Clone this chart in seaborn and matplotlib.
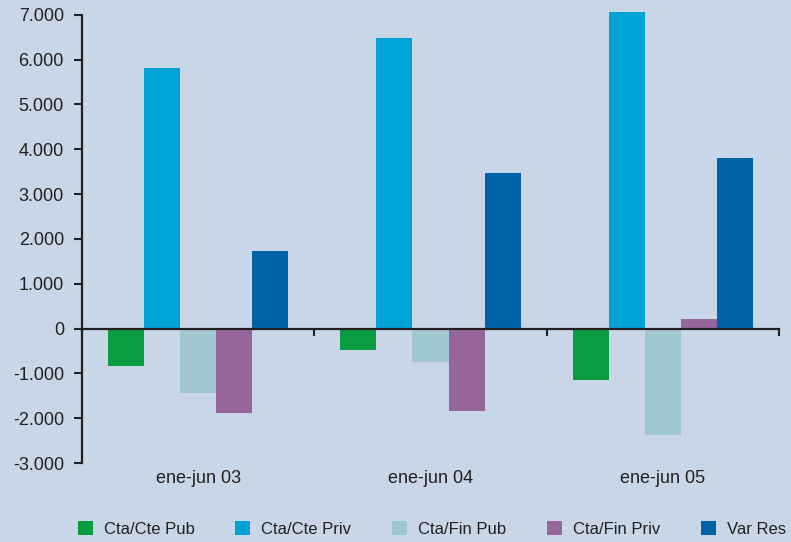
import matplotlib
matplotlib.use("Agg")
import matplotlib.pyplot as plt
import matplotlib.transforms as mtransforms
from matplotlib.patches import Patch
from matplotlib.ticker import FuncFormatter
import pandas as pd
import seaborn as sns

# Periods and flows (millions)
categories = ["ene-jun 03", "ene-jun 04", "ene-jun 05"]
series_names = ["Cta/Cte Pub", "Cta/Cte Priv", "Cta/Fin Pub", "Cta/Fin Priv", "Var Res"]
cta_cte_pub = [-830, -480, -1150]
cta_cte_priv = [5810, 6480, 7060]
cta_fin_pub = [-1430, -740, -2370]
cta_fin_priv = [-1880, -1850, 210]
var_res = [1730, 3470, 3800]
y_ticks = [-3000, -2000, -1000, 0, 1000, 2000, 3000, 4000, 5000, 6000, 7000]

colors = ["#0a9c42", "#00a3d6", "#a0c6d0", "#96659c", "#0063a7"]
bg = "#c9d6e7"
ink = "#231f20"

values = [cta_cte_pub, cta_cte_priv, cta_fin_pub, cta_fin_priv, var_res]
rows = []
for name, vals in zip(series_names, values):
    for cat, v in zip(categories, vals):
        rows.append({"periodo": cat, "serie": name, "valor": v})
df = pd.DataFrame(rows)

sns.set_theme(style="white")
plt.rcParams["font.family"] = ["Liberation Sans", "DejaVu Sans"]

fig = plt.figure(figsize=(7.91, 5.42), dpi=100, facecolor=bg)
ax = fig.add_axes([82 / 791, (542 - 463) / 542, (779 - 82) / 791, (463 - 11.6) / 542])
ax.set_facecolor(bg)

sns.barplot(data=df, x="periodo", y="valor", hue="serie", order=categories,
            hue_order=series_names, palette=colors, width=0.775,
            saturation=1, legend=False, ax=ax, linewidth=0, errorbar=None)

ax.set_xlim(-0.5, 2.5)
ax.set_ylim(-3000, 7070)

# y axis: thousands with a dot separator
ax.set_yticks(y_ticks)
ax.yaxis.set_major_formatter(FuncFormatter(
    lambda v, _: f"{int(v):,}".replace(",", ".")))
ax.tick_params(axis="y", direction="out", length=6, width=1.5, color=ink,
               labelsize=13, labelcolor=ink, pad=7, left=True)

# x axis sits on zero, with ticks between the periods
ax.spines["bottom"].set_position(("data", 0))
ax.set_xticks([-0.5, 0.5, 1.5, 2.5])
ax.set_xticklabels([])
ax.tick_params(axis="x", direction="out", length=5, width=1.5, color=ink, bottom=True)
ax.set_xlabel("")
ax.set_ylabel("")

for side in ["top", "right"]:
    ax.spines[side].set_visible(False)
for side in ["left", "bottom"]:
    ax.spines[side].set_color(ink)
    ax.spines[side].set_linewidth(1.6)
ax.spines["left"].set_bounds(-3000, 7000)

# period names under the plot area
trans = mtransforms.blended_transform_factory(ax.transData, ax.transAxes)
for i, cat in enumerate(categories):
    ax.text(i, -0.034, cat, transform=trans, ha="center", va="center",
            fontsize=13, color=ink)

handles = [Patch(facecolor=c, edgecolor="none", label=n) for c, n in zip(colors, series_names)]
fig.legend(handles=handles, loc="center", bbox_to_anchor=(432 / 791, 1 - 529 / 542),
           ncol=5, frameon=False, fontsize=12, handlelength=0.9, handleheight=0.9,
           handletextpad=0.66, columnspacing=2.45, labelcolor=ink,
           borderpad=0, borderaxespad=0)

fig.savefig("out.png", dpi=100, facecolor=bg)
